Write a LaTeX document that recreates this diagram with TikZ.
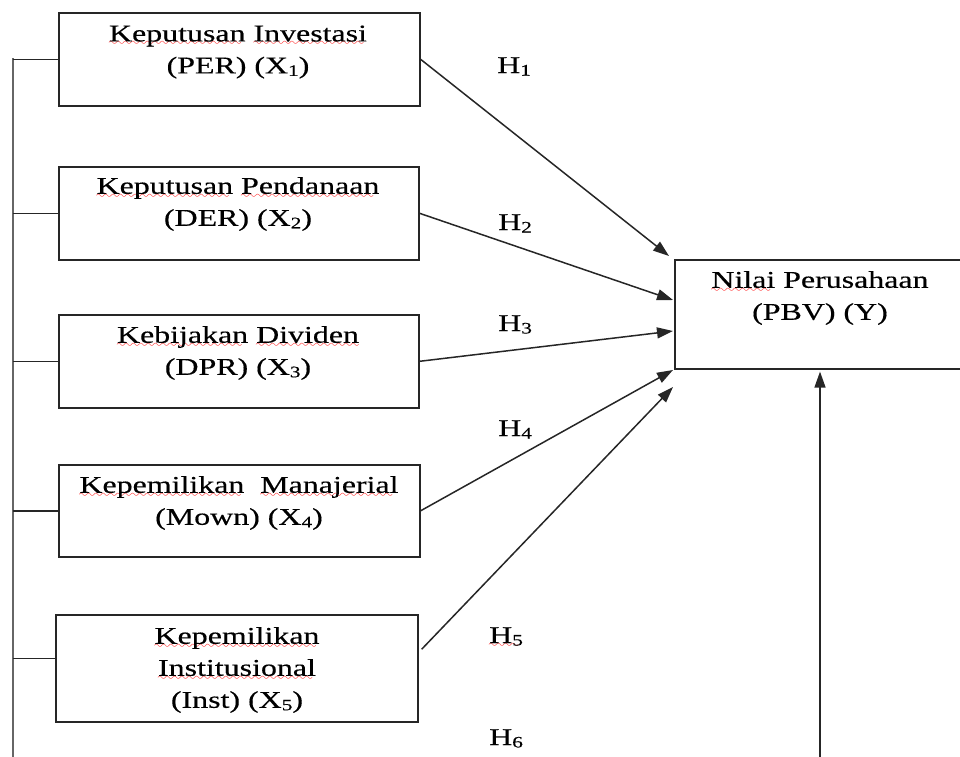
\documentclass[tikz,border=0pt]{standalone}
\usepackage{fontspec}
\setmainfont{Liberation Serif}[FakeStretch=1.33,FakeBold=0.4]
\usetikzlibrary{arrows.meta,calc}
\font\wavefont=lasy10 at 11pt
\newcommand\sq[1]{\setbox0\hbox{#1}\rlap{\lower4.5pt\hbox to \wd0{\leaders\hbox{\textcolor{red}{\wavefont\char58}}\hfill}}\box0\relax}
\newcommand\sub[1]{\raisebox{-2.5pt}{\fontsize{16}{16}\selectfont #1}}
\begin{document}
\begin{tikzpicture}[x=1pt,y=-1pt,
  box/.style={draw=black!85,line width=1.6pt,inner sep=0pt,anchor=north west},
  lbl/.style={inner sep=0pt,align=center,font=\fontsize{24}{32}\selectfont},
  hyp/.style={inner sep=0pt,anchor=base west,font=\fontsize{24}{32}\selectfont},
  arr/.style={draw=black!85,line width=1.5pt,-{Triangle[length=16pt,width=11pt]}},
  bus/.style={draw=black!60,line width=2.2pt},
  stub/.style={draw=black!85,line width=1.5pt}]
\useasboundingbox (0,0) rectangle (960,756);
\clip (0,0) rectangle (960,756);

% boxes
\node[box,minimum width=361pt,minimum height=93pt] (B1) at (58,12) {};
\node[box,minimum width=360pt,minimum height=93pt] (B2) at (58,166) {};
\node[box,minimum width=360pt,minimum height=93pt] (B3) at (58,314) {};
\node[box,minimum width=361pt,minimum height=92pt] (B4) at (58,464) {};
\node[box,minimum width=362pt,minimum height=107pt] (B5) at (55,614) {};
\node[box,minimum width=330pt,minimum height=109pt] (BY) at (674,259) {};

% texts
\node[lbl] (T1) at (238,52) {\sq{Keputusan} \sq{Investasi}\\(PER) (X\sub{1})};
\node[lbl] (T2) at (238,204) {\sq{Keputusan} \sq{Pendanaan}\\(DER) (X\sub{2})};
\node[lbl] (T3) at (238,353) {\sq{Kebijakan} \sq{Dividen}\\(DPR) (X\sub{3})};
\node[lbl] (T4) at (239,503) {\sq{Kepemilikan}\ \ \sq{Manajerial}\\(Mown) (X\sub{4})};
\node[lbl] (T5) at (237,670) {\sq{Kepemilikan}\\\sq{Institusional}\\(Inst) (X\sub{5})};
\node[lbl] (TY) at (820,298) {\sq{Nilai} Perusahaan\\(PBV) (Y)};

% hypothesis labels
\node[hyp] (H1) at (497,73) {H\sub{1}};
\node[hyp] (H2) at (498,230) {H\sub{2}};
\node[hyp] (H3) at (498,331) {H\sub{3}};
\node[hyp] (H4) at (498,436) {H\sub{4}};
\node[hyp] (H5) at (489,643) {\sq{H\sub{5}}};
\node[hyp] (H6) at (489,745) {H\sub{6}};

% left bus
\coordinate (bustop) at (13,58);
\coordinate (busbot) at (13,760);
\draw[bus] (bustop) -- (busbot);
\draw[stub] (B1.west) -- (B1.west -| bustop);
\draw[stub] (B2.west) -- (B2.west -| bustop);
\draw[stub] (B3.west) -- (B3.west -| bustop);
\draw[stub] (B4.west) -- (B4.west -| bustop);
\coordinate (s5) at ($(B5.west)+(0,-10)$);
\draw[stub] (s5) -- (s5 -| bustop);

% arrows into Y
\draw[arr] (B1.east) -- ($(BY.north west)+(-5,-3)$);
\draw[arr] (B2.east) -- ($(BY.north west)+(-1,41)$);
\draw[arr] (B3.east) -- ($(BY.north west)+(-1,72)$);
\draw[arr] (B4.east) -- ($(BY.north west)+(-1,111)$);
\draw[arr] ($(B5.east)+(3,-19)$) -- ($(BY.north west)+(-1,128)$);
\coordinate (ybot) at (820,760);
\draw[arr] (ybot) -- ($(ybot |- BY.south)+(0,2)$);
\end{tikzpicture}
\end{document}
